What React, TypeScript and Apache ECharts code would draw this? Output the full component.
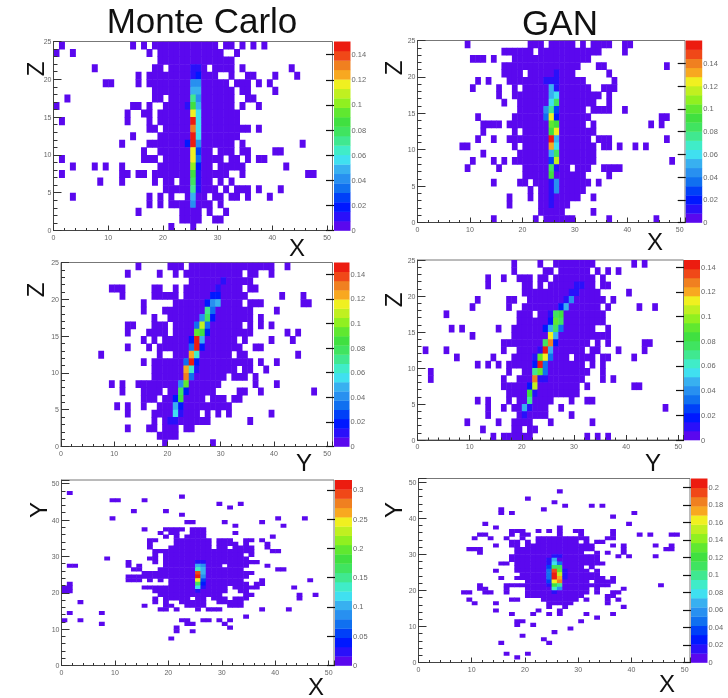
import React, { useEffect, useRef } from "react";
import * as echarts from "echarts";

// Each list runs from the top row of a panel to the bottom row; entries are the filled (lowest band) bins.
const mcXZRows = [
  "1 14 16 18-29 31-32 34 36 38",
  "0 3 17 19-30 33",
  "19-29 30-32",
  "7 18-19 21-27 29-32 34 43",
  "15 17-29 32 35-36 40 44",
  "9-10 15 17-31 33-35 37 39",
  "18-32 34-35 40",
  "2 18-19 21-32 35-36",
  "0 14-15 17 20-32 34 37",
  "13 16-17 19-33",
  "1 13 17 19-33",
  "17-18 20-33 34-35 37",
  "14 19-33",
  "12 17-32 34 45",
  "16 19-28 30-32 34-35 40-41",
  "1 16-18 20-30 32-33 35 37-38",
  "3 7 9 12 19-28 30-34 42",
  "1 12-13 15-16 18-31 34 46-47",
  "8 12 18 20-21 23-28 30 32",
  "20-29 31 33-35 37 41",
  "3 17 19 21 24-27 29-30 32-33 35 39",
  "17 19 21-28 30",
  "15 23-26 28 31",
  "23-26 29-30",
  "21 25",
];
const mcXZCore = [
  [25,21,.01],[26,21,.01],[25,20,.015],[26,20,.02],[25,19,.04],[26,19,.045],[25,18,.05],[26,18,.05],
  [25,17,.07],[26,17,.04],[24,16,.01],[25,16,.09],[26,16,.05],[25,15,.115],[26,15,.06],[25,14,.143],[26,14,.06],
  [25,13,.13],[26,13,.06],[25,12,.143],[26,12,.06],[24,11,.02],[25,11,.148],[26,11,.04],[25,10,.12],[26,10,.03],
  [25,9,.115],[26,9,.035],[25,8,.1],[26,8,.02],[25,7,.09],[26,7,.015],[25,6,.08],[26,6,.01],[25,5,.07],[26,5,.01],
  [25,4,.05],[25,3,.04],
];

const ganXZRows = [
  "9 21-23 25-29 31 33-36 39-40",
  "16-21 23-34 39",
  "10-12 14 18-32",
  "16-30 34-35 47",
  "16-19 21-29 36",
  "11 13 17-31 37",
  "10 15 18 20-32 35 36-37",
  "15 18-34 36",
  "16 19-33 36",
  "19-31 33-36 39",
  "11 18-32 46-47",
  "12-15 17-31 33 44 46",
  "12 18 20-33",
  "11 14 17-32 34-36 47",
  "8-9 18 20-33 35-36 38 41 43",
  "12 19-33",
  "10 14 16 18-33 48",
  "9 15 20-28 30-32 35-38",
  "20-31 36",
  "14 19-20 22-32 34",
  "21 23-31",
  "17 21 23-30 33",
  "17 23-28",
  "23-27 33",
  "14 22 24-29 36 45",
];
const ganXZCore = [
  [26,20,.015],[24,19,.01],[25,19,.015],[26,19,.01],[25,18,.05],[26,18,.01],[25,17,.055],[26,17,.06],
  [25,16,.06],[26,16,.08],[24,15,.04],[25,15,.075],[26,15,.03],[24,14,.035],[25,14,.12],[26,14,.02],
  [25,13,.1],[26,13,.09],[25,12,.09],[26,12,.125],[25,11,.155],[26,11,.05],[25,10,.13],[26,10,.06],
  [25,9,.055],[26,9,.085],[25,8,.03],[26,8,.115],[25,7,.08],[26,7,.015],[25,6,.09],[25,5,.01],[26,5,.04],
  [25,4,.01],[26,4,.04],[25,3,.008],[25,2,.008],
];

const mcYZRows = [
  "14 20-22 24-39 42",
  "12 18 21 23 24-33 35-36 39",
  "24-35",
  "9-11 17-18 21 23-33 35-36",
  "11 17-21 23-34 41 45",
  "15 21-33 35-37 45-46",
  "15 19-35 40",
  "17 20-35 37",
  "12-13 17-19 21-33 35 37 39",
  "12 16-19 21-32 33-35 42 44",
  "15 17 19-32 34 39 43",
  "12 16 18-33 36-37",
  "7 18 21-31 33-34 44",
  "15 17-34 35 37 40",
  "17-32 34-35 38",
  "17-30 32-34 36",
  "9 11 14-29 36 40",
  "11 15-18 20-28 33-34 37 47",
  "15-17 19-26 28-30 32-33",
  "10 12 15 18-31",
  "12 17-25 27 29 31 39",
  "17 19-27 35",
  "12 16-17 19-21 23-24",
  "18-21",
  "19 28",
];
const mcYZCore = [
  [30,22,.008],[29,21,.01],[28,20,.02],[29,20,.015],[27,19,.015],[28,19,.04],[29,19,.045],[27,18,.07],[28,18,.03],
  [26,17,.04],[27,17,.08],[28,17,.02],[25,16,.035],[26,16,.105],[27,16,.03],[25,15,.095],[26,15,.085],[27,15,.02],
  [24,14,.02],[25,14,.148],[26,14,.05],[24,13,.035],[25,13,.145],[26,13,.02],[24,12,.125],[25,12,.06],
  [23,11,.03],[24,11,.148],[25,11,.02],[23,10,.12],[24,10,.06],[25,10,.01],[23,9,.13],[24,9,.03],[22,8,.04],[23,8,.09],
  [22,7,.08],[23,7,.02],[21,6,.015],[22,6,.085],[21,5,.05],[22,5,.015],[21,4,.055],[22,4,.01],[20,3,.01],[21,3,.008],
];

const ganYZRows = [
  "18 23 26-33 41 43",
  "18 24-25 27-32 34 36 38",
  "13 16 19-21 23-24 26-33 35",
  "13 20-21 23 25-33 35-36",
  "20-34 40",
  "11 17-18 21-35 37",
  "10 17 20-34 36 42 45",
  "5 19-21 23-35",
  "19-35",
  "6 8 15 18-33 36",
  "10 18-36",
  "16-32 34 36 43-44",
  "1 5 16 19-31 33-34 38 43",
  "7 14 18-28 30-33 35-36 41",
  "11 13 15 17-31 33 35",
  "2 17 20-32 35",
  "2 16 19-31 35 37",
  "16-30 32 41-42",
  "17-30",
  "11 13 17 19-25 29 32-33",
  "13 16 18-24 27 47",
  "13 19-24 29",
  "9 15 18-21 25 33",
  "12 18-19 21-22",
  "14 16-21 32 34 36",
];
const ganYZCore = [
  [31,21,.01],[30,21,.008],[29,20,.01],[30,20,.008],[28,19,.01],[29,19,.04],[27,18,.015],[28,18,.05],
  [25,17,.01],[26,17,.08],[27,17,.085],[25,16,.02],[26,16,.09],[27,16,.08],[24,15,.02],[25,15,.05],[26,15,.08],[27,15,.03],
  [25,14,.115],[26,14,.05],[24,13,.075],[25,13,.125],[26,13,.02],[23,12,.01],[24,12,.143],[25,12,.05],
  [22,11,.01],[23,11,.09],[24,11,.11],[25,11,.035],[22,10,.02],[23,10,.143],[24,10,.03],[22,9,.07],[23,9,.09],[24,9,.03],
  [22,8,.13],[23,8,.01],[24,8,.01],[21,7,.015],[22,7,.105],[21,6,.085],[22,6,.01],[21,5,.07],[20,4,.05],[21,4,.01],[20,3,.01],
];

const mcXYRows = [
  "", "", "",
  "1", "22", "9-10 15", "29 33", "31", "13 19", "22", "9 40 45", "23-24 30 37", "32 41",
  "15 19-22 24-26",
  "18 20-21 24-26 32",
  "19 21 23-26 39",
  "16-17 21-27 29-31 34-35 37",
  "16 21-27 29-32 34 38",
  "16 20-27 29-30 32-35 38",
  "17-35 39-40",
  "17 19-33 35",
  "8 16-17 19-34",
  "12 17 19-36",
  "1-2 12 14 19-29 31-34 38",
  "13-14 18-33 40-41",
  "15-35",
  "12-34",
  "12-14 16 18 20-33 37 46",
  "1 20-34 36-37",
  "0-1 15-30 32-36 43",
  "0-1 17-30 33-34",
  "18-29 34-35 44 47",
  "17 19-23 25-26 28-30 32-34 44",
  "3 17 19 22-26 29-33",
  "15 19-20 23-26 31-33",
  "18-19 21 25 27-29 37 42",
  "1 7", "34",
  "0 3 22-23 26-27 29 31",
  "7 23-24 30",
  "21 31",
  "21 24",
  "", "20", "", "", "", "", "", "", "",
];
const mcXYCore = [
  [25,29,.01],[26,29,.01],[24,28,.01],[25,28,.02],[26,28,.02],[27,28,.015],[24,27,.015],[25,27,.1],[26,27,.08],[27,27,.015],
  [24,26,.015],[25,26,.14],[26,26,.1],[27,26,.015],[24,25,.015],[25,25,.29],[26,25,.1],[27,25,.015],
  [24,24,.015],[25,24,.31],[26,24,.09],[27,24,.015],[24,23,.015],[25,23,.24],[26,23,.06],[27,23,.015],
  [24,22,.015],[25,22,.17],[26,22,.04],[27,22,.015],[24,21,.015],[25,21,.12],[26,21,.02],[25,20,.03],
];

const ganXYRows = [
  "", "", "",
  "26", "", "20", "25", "27 32 34", "15 23", "15 17 40", "36", "", "12 39", "14 26",
  "17-19 22 24 26 29-30 36",
  "11-12 17 19-20 26 30 36 41 43 47-48",
  "10 13 16 19 22-29 30-31 35-36",
  "17-18 20 22-29 31 33-34",
  "14 17-18 20-32 36 38 44 47",
  "9-11 18-32 38 46-47",
  "11 18-30 33 35 38",
  "17-32 33 37 39 44",
  "17-33",
  "15-16 18-34",
  "18-30 32",
  "14 18-31 33",
  "19-33",
  "15 18-34 36",
  "20-31 33-36",
  "11 16-35 45",
  "11-12 16 20-31 33 38",
  "8-9 12-13 16 20-31 33 36-37",
  "20-30 35-36",
  "9 17-18 23-29 31 35 37",
  "10 14 24-28 35",
  "24 27 38",
  "14 22 26",
  "17 21 24 26 31 36",
  "33",
  "18-19 30",
  "18 21",
  "28", "25", "19", "23",
  "15 24", "", "", "16 20", "18", "",
];
const ganXYCore = [
  [24,29,.01],[25,29,.02],[26,29,.015],[24,28,.02],[25,28,.07],[26,28,.01],[24,27,.02],[25,27,.08],[26,27,.05],
  [24,26,.035],[25,26,.11],[26,26,.11],[27,26,.01],[24,25,.045],[25,25,.19],[26,25,.13],[27,25,.015],
  [24,24,.05],[25,24,.205],[26,24,.15],[27,24,.02],[24,23,.05],[25,23,.2],[26,23,.17],[27,23,.015],
  [24,22,.035],[25,22,.16],[26,22,.18],[24,21,.02],[25,21,.12],[26,21,.1],[25,20,.09],[26,20,.06],[25,19,.02],[26,19,.01],[25,18,.01],
];

const palette = [
  "#5a08ee", "#2a10fa", "#0018ff", "#0040f8", "#1070f0", "#2890f0", "#38b0f0", "#40e0f0", "#40ecc8", "#40e890",
  "#40e460", "#40e040", "#60e830", "#90f020", "#c0f020", "#f0f020", "#f8a820", "#f08020", "#f04818", "#ec1c10",
];

const panels = [
  { rows: mcXZRows, core: mcXZCore, max: .1505, step: .02, yMax: 25, yStep: 5, g: [53.5, 41.5, 279, 189], b: [334, 16.5] },
  { rows: ganXZRows, core: ganXZCore, max: .16, step: .02, yMax: 25, yStep: 5, g: [417.5, 40.5, 267.5, 182], b: [685.7, 16.5] },
  { rows: mcYZRows, core: mcYZCore, max: .1495, step: .02, yMax: 25, yStep: 5, g: [61, 262.5, 271.5, 184], b: [334, 15.5] },
  { rows: ganYZRows, core: ganYZCore, max: .1457, step: .02, yMax: 25, yStep: 5, g: [417.5, 260, 266, 180], b: [684, 16] },
  { rows: mcXYRows, core: mcXYCore, max: .317, step: .05, yMax: 51, yStep: 10, g: [61.5, 480, 272.5, 185.5], b: [335, 17] },
  { rows: ganXYRows, core: ganXYCore, max: .21, step: .02, yMax: 51, yStep: 10, g: [418.5, 478.5, 271.5, 184], b: [691, 16.5] },
];

const letters: [string, number, number, boolean][] = [
  ["Z", 35, 69, true], ["X", 297, 247, false], ["Z", 393, 68, true], ["X", 655, 241, false],
  ["Z", 35, 290, true], ["Y", 304, 462, false], ["Z", 393, 300, true], ["Y", 653, 462, false],
  ["Y", 38, 510, true], ["X", 316, 686, false], ["Y", 393, 510, true], ["X", 667, 683, false],
];
const headings: [string, number, number][] = [["Monte Carlo", 202, 20], ["GAN", 560, 22]];

const FONT = "Liberation Sans";

function cells(rows: string[], core: number[][]) {
  const map = new Map<string, number>();
  rows.forEach((line, i) => {
    const y = rows.length - 1 - i;
    line.split(" ").filter(Boolean).forEach((span) => {
      const [a, b] = span.split("-").map(Number);
      for (let x = a; x <= (b ?? a); x++) map.set(x + "," + y, 0.0005);
    });
  });
  core.forEach(([x, y, v]) => map.set(x + "," + y, v));
  return [...map.entries()].map(([k, v]) => [...k.split(",").map(Number), v]);
}

const band = (v: number, max: number) => palette[Math.min(palette.length - 1, Math.floor((v / max) * palette.length))];

function buildOption() {
  const grid: any[] = [], xAxis: any[] = [], yAxis: any[] = [], series: any[] = [];
  const tickLabel = { fontFamily: FONT, fontSize: 7, color: "#666" };
  panels.forEach((p, i) => {
    const [l, t, w, h] = p.g;
    const [bl, bw] = p.b;
    const a = i * 2, c = i * 2 + 1;
    grid.push({ left: l, top: t, width: w, height: h, show: true, borderColor: "#777", borderWidth: 1, backgroundColor: "#fff" });
    grid.push({ left: bl, top: t, width: bw, height: h });
    const axisLine = { show: true, onZero: false, lineStyle: { color: "#444", width: 1 } };
    xAxis.push({
      type: "value", gridIndex: a, min: 0, max: 51, interval: 10, z: 5, splitLine: { show: false }, axisLine,
      axisTick: { inside: true, length: 5, lineStyle: { color: "#333" } },
      minorTick: { show: true, splitNumber: 5, length: 2.5, lineStyle: { color: "#333" } },
      axisLabel: { ...tickLabel, margin: 3, showMaxLabel: false },
    });
    yAxis.push({
      type: "value", gridIndex: a, min: 0, max: p.yMax, interval: p.yStep, z: 5, splitLine: { show: false }, axisLine,
      axisTick: { inside: true, length: 8, lineStyle: { color: "#333" } },
      minorTick: { show: true, splitNumber: 5, length: 4, lineStyle: { color: "#333" } },
      axisLabel: { ...tickLabel, margin: 2, showMaxLabel: p.yMax === 25 },
    });
    xAxis.push({ type: "value", gridIndex: c, min: 0, max: 1, show: false });
    yAxis.push({
      type: "value", gridIndex: c, position: "right", min: 0, max: p.max, interval: p.step, z: 5,
      splitLine: { show: false }, axisLine: { show: false },
      axisTick: { inside: true, length: 8, lineStyle: { color: "#111", width: 1.2 } },
      axisLabel: { ...tickLabel, fontSize: 7.5, margin: 1, showMaxLabel: false },
    });
    series.push({
      type: "custom", xAxisIndex: a, yAxisIndex: a, clip: true, silent: true,
      data: cells(p.rows, p.core), encode: { x: 0, y: 1 },
      renderItem: (_: any, api: any) => {
        const x = api.value(0), y = api.value(1);
        const p0 = api.coord([x, y + 1]), p1 = api.coord([x + 1, y]);
        return {
          type: "rect",
          shape: { x: p0[0], y: p0[1], width: p1[0] - p0[0] + 0.5, height: p1[1] - p0[1] + 0.5 },
          style: { fill: band(api.value(2), p.max) },
        };
      },
    });
    series.push({
      type: "custom", xAxisIndex: c, yAxisIndex: c, silent: true,
      data: palette.map((_, k) => [0, k]), encode: { x: 0, y: 1 },
      renderItem: (_: any, api: any) => {
        const k = api.value(1);
        const p0 = api.coord([0, ((k + 1) / palette.length) * p.max]);
        const p1 = api.coord([1, (k / palette.length) * p.max]);
        return {
          type: "rect",
          shape: { x: p0[0], y: p0[1], width: p1[0] - p0[0], height: p1[1] - p0[1] + 0.3 },
          style: { fill: palette[k] },
        };
      },
    });
  });
  const graphic = [
    ...headings.map(([text, x, y]) => ({
      type: "text", x, y, style: { text, x: 0, y: 0, align: "center", verticalAlign: "middle", fontFamily: FONT, fontSize: 35, fill: "#111" },
    })),
    ...letters.map(([text, x, y, rotated]) => ({
      type: "text", x, y, rotation: rotated ? Math.PI / 2 : 0,
      style: { text, x: 0, y: 0, align: "center", verticalAlign: "middle", fontFamily: FONT, fontSize: 24, fill: "#111" },
    })),
  ];
  return { animation: false, backgroundColor: "#fff", grid, xAxis, yAxis, series, graphic };
}

export default function App() {
  const ref = useRef<HTMLDivElement>(null);
  useEffect(() => {
    const chart = echarts.init(ref.current!, undefined, { renderer: "svg" });
    chart.setOption(buildOption() as any);
    return () => chart.dispose();
  }, []);
  return <div ref={ref} style={{ position: "absolute", left: 0, top: 0, width: 728, height: 698, filter: "blur(0.45px)" }} />;
}
